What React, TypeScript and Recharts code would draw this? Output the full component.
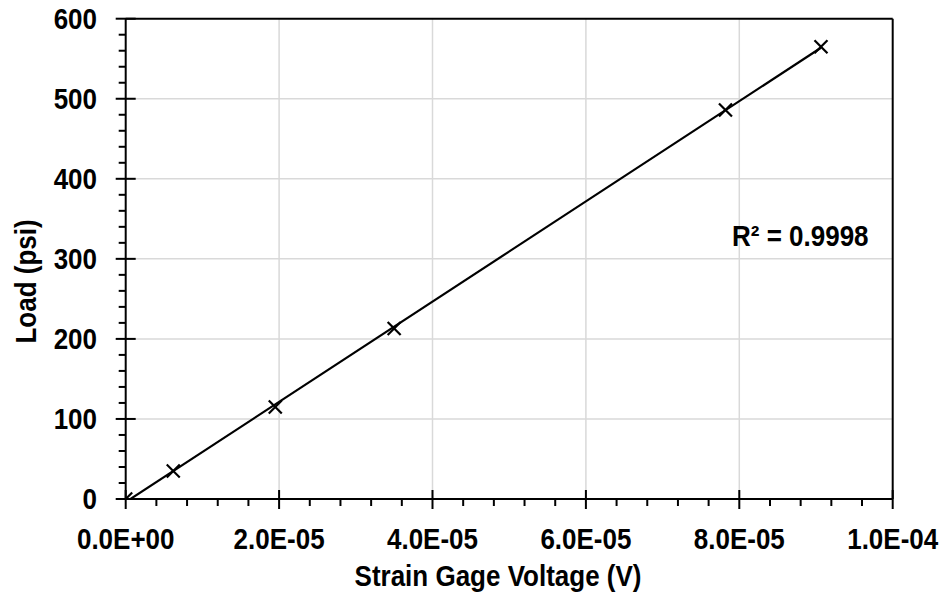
import React from 'react';
import { ComposedChart, Scatter, XAxis, YAxis, CartesianGrid, ReferenceLine } from 'recharts';

// measured points
const voltage = [0, 6.2e-6, 19.5e-6, 35.0e-6, 78.2e-6, 90.65e-6];
const load = [0, 35, 115, 213, 486, 565];

const xMajor = [0, 2e-5, 4e-5, 6e-5, 8e-5, 1e-4];
const xLabels = ['0.0E+00', '2.0E-05', '4.0E-05', '6.0E-05', '8.0E-05', '1.0E-04'];
const yMajor = [0, 100, 200, 300, 400, 500, 600];
const yLabels = ['0', '100', '200', '300', '400', '500', '600'];

const xAllTicks = Array.from({ length: 26 }, (_, i) => i * 4e-6);
const yAllTicks = Array.from({ length: 31 }, (_, i) => i * 20);

const rSquaredText = 'R² = 0.9998';

const FONT = "'Liberation Sans', Arial, sans-serif";
const STRETCH = 'scale(1,1.12)';

const points = voltage.map((v, i) => ({ x: v, y: load[i] }));

// least squares fit for the trendline
function fit() {
  const n = voltage.length;
  const mx = voltage.reduce((a, b) => a + b, 0) / n;
  const my = load.reduce((a, b) => a + b, 0) / n;
  let sxy = 0;
  let sxx = 0;
  voltage.forEach((v, i) => {
    sxy += (v - mx) * (load[i] - my);
    sxx += (v - mx) * (v - mx);
  });
  const slope = sxy / sxx;
  const icpt = my - slope * mx;
  const x0 = Math.min(...voltage);
  const x1 = Math.max(...voltage);
  return [
    { x: x0, y: icpt + slope * x0 },
    { x: x1, y: icpt + slope * x1 },
  ];
}
const trend = fit();

function majorIndex(list: number[], v: number, eps: number) {
  return list.findIndex(m => Math.abs(m - v) < eps);
}

function XTick({ x, y, payload }: any) {
  const idx = majorIndex(xMajor, payload.value, 1e-9);
  const major = idx >= 0;
  return (
    <g>
      <line x1={x} x2={x} y1={major ? y - 9 : y} y2={major ? y + 10 : y + 7} stroke="#000" strokeWidth={2} />
      {major && (
        <text
          transform={`translate(${x},${y + 50}) ${STRETCH}`}
          textAnchor="middle"
          fontFamily={FONT}
          fontWeight="bold"
          fontSize={26}
          fill="#000"
        >
          {xLabels[idx]}
        </text>
      )}
    </g>
  );
}

function YTick({ x, y, payload }: any) {
  const idx = majorIndex(yMajor, payload.value, 1e-6);
  const major = idx >= 0;
  return (
    <g>
      <line y1={y} y2={y} x1={major ? x - 10 : x - 7} x2={major ? x + 10 : x} stroke="#000" strokeWidth={2} />
      {major && (
        <text
          transform={`translate(${x - 28.7},${y + 10.4}) ${STRETCH}`}
          textAnchor="end"
          fontFamily={FONT}
          fontWeight="bold"
          fontSize={26}
          fill="#000"
        >
          {yLabels[idx]}
        </text>
      )}
    </g>
  );
}

function XMark({ cx, cy }: any) {
  const s = 6.5;
  return (
    <g stroke="#000" strokeWidth={2.2}>
      <line x1={cx - s} y1={cy - s} x2={cx + s} y2={cy + s} />
      <line x1={cx - s} y1={cy + s} x2={cx + s} y2={cy - s} />
    </g>
  );
}

const W = 942;
const H = 598;

export default function App() {
  return (
    <div style={{ position: 'absolute', left: 0, top: 0, width: W, height: H }}>
      <ComposedChart width={W} height={H} margin={{ top: 18.7, right: 49.3, bottom: 0, left: 0 }}>
        <CartesianGrid
          stroke="#d9d9d9"
          strokeWidth={1.5}
          horizontalValues={yMajor.slice(1, -1)}
          verticalValues={xMajor.slice(1, -1)}
        />
        <XAxis
          type="number"
          dataKey="x"
          domain={[0, 1e-4]}
          ticks={xAllTicks}
          interval={0}
          height={99}
          tickSize={0}
          tickMargin={0}
          tickLine={false}
          axisLine={{ stroke: '#000', strokeWidth: 2 }}
          tick={<XTick />}
          allowDataOverflow
        />
        <YAxis
          type="number"
          dataKey="y"
          domain={[0, 600]}
          ticks={yAllTicks}
          interval={0}
          width={125.7}
          tickSize={0}
          tickMargin={0}
          tickLine={false}
          axisLine={{ stroke: '#000', strokeWidth: 2 }}
          tick={<YTick />}
          allowDataOverflow
        />
        <ReferenceLine y={600} stroke="#000" strokeWidth={2} />
        <ReferenceLine x={1e-4} stroke="#000" strokeWidth={2} />
        <Scatter
          data={trend}
          line={{ stroke: '#000', strokeWidth: 2.2 }}
          shape={() => <g />}
          isAnimationActive={false}
        />
        <Scatter data={points} shape={<XMark />} isAnimationActive={false} />
      </ComposedChart>
      <svg
        width={W}
        height={H}
        style={{ position: 'absolute', left: 0, top: 0, pointerEvents: 'none' }}
      >
        <g fontFamily={FONT} fontWeight="bold" fontSize={26} fill="#000">
          <text transform={`translate(498,586) ${STRETCH}`} textAnchor="middle">
            Strain Gage Voltage (V)
          </text>
          <text transform={`translate(36,281.5) rotate(-90) ${STRETCH}`} textAnchor="middle">
            Load (psi)
          </text>
          <text transform={`translate(732,246) ${STRETCH}`}>{rSquaredText}</text>
        </g>
      </svg>
    </div>
  );
}
